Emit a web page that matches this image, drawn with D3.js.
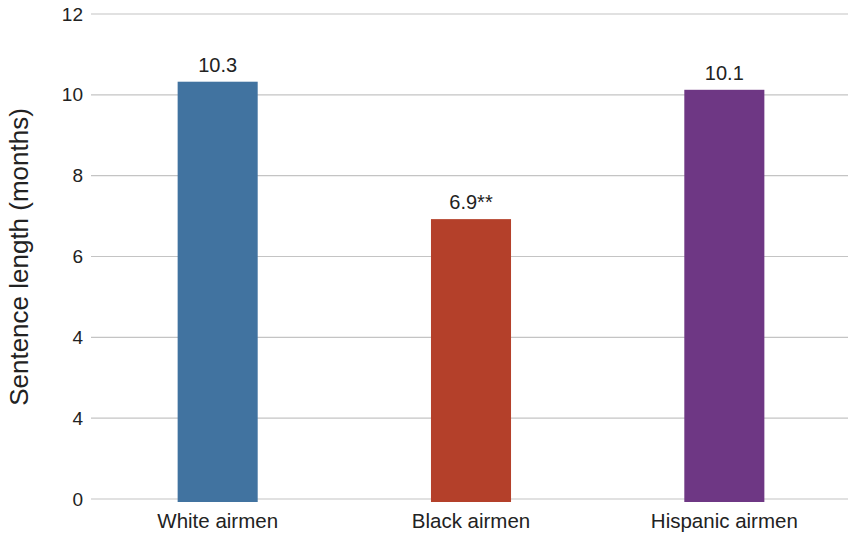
<!DOCTYPE html>
<html>
<head>
<meta charset="utf-8">
<script src="https://cdn.jsdelivr.net/npm/d3@7"></script>
<style>
  html, body { margin: 0; padding: 0; background: #fff; }
  svg { display: block; font-family: "Liberation Sans", Arial, Helvetica, sans-serif; }
</style>
</head>
<body>
<svg id="chart" width="848" height="537"></svg>
<script>
const categories = ["White airmen", "Black airmen", "Hispanic airmen"];
const values = [10.3, 6.9, 10.1];
const valueLabels = ["10.3", "6.9**", "10.1"];
const barColors = ["#4173a0", "#b4402a", "#6e3784"];
const tickValues = [0, 2, 4, 6, 8, 10, 12];
const tickLabels = ["0", "4", "4", "6", "8", "10", "12"];
const yTitle = "Sentence length (months)";

const svg = d3.select("#chart");
const plotLeft = 91, plotRight = 848, plotTop = 14, plotBottom = 499;

const y = d3.scaleLinear().domain([0, 12]).range([plotBottom, plotTop]);
const x = d3.scaleBand().domain(categories).range([plotLeft, 851])
  .paddingInner(0.684).paddingOuter(0.342);

// gridlines
svg.append("g").selectAll("line").data(tickValues).join("line")
  .attr("x1", plotLeft).attr("x2", plotRight)
  .attr("y1", d => y(d)).attr("y2", d => y(d))
  .attr("stroke", "#c4c4c4").attr("stroke-width", 1.2);

// y tick labels
svg.append("g").selectAll("text").data(tickValues).join("text")
  .attr("x", 83).attr("y", d => y(d))
  .attr("dy", "0.35em")
  .attr("text-anchor", "end")
  .attr("font-size", 19).attr("fill", "#222")
  .text((d, i) => tickLabels[i]);

// bars
svg.append("g").selectAll("rect").data(values).join("rect")
  .attr("x", (d, i) => x(categories[i]))
  .attr("width", x.bandwidth())
  .attr("y", d => y(d) - 1)
  .attr("height", d => y(0) - y(d) + 4)
  .attr("fill", (d, i) => barColors[i]);

// value labels
svg.append("g").selectAll("text").data(values).join("text")
  .attr("x", (d, i) => x(categories[i]) + x.bandwidth() / 2)
  .attr("y", d => y(d) - 11)
  .attr("text-anchor", "middle")
  .attr("font-size", 20).attr("fill", "#222")
  .text((d, i) => valueLabels[i]);

// x labels
svg.append("g").selectAll("text").data(categories).join("text")
  .attr("x", d => x(d) + x.bandwidth() / 2)
  .attr("y", 528)
  .attr("text-anchor", "middle")
  .attr("font-size", 20.5).attr("fill", "#222")
  .text(d => d);

// y title
svg.append("text")
  .attr("transform", `translate(28,${(107 + 407) / 2}) rotate(-90)`)
  .attr("text-anchor", "middle")
  .attr("font-size", 26).attr("fill", "#222")
  .text(yTitle);
</script>
</body>
</html>
